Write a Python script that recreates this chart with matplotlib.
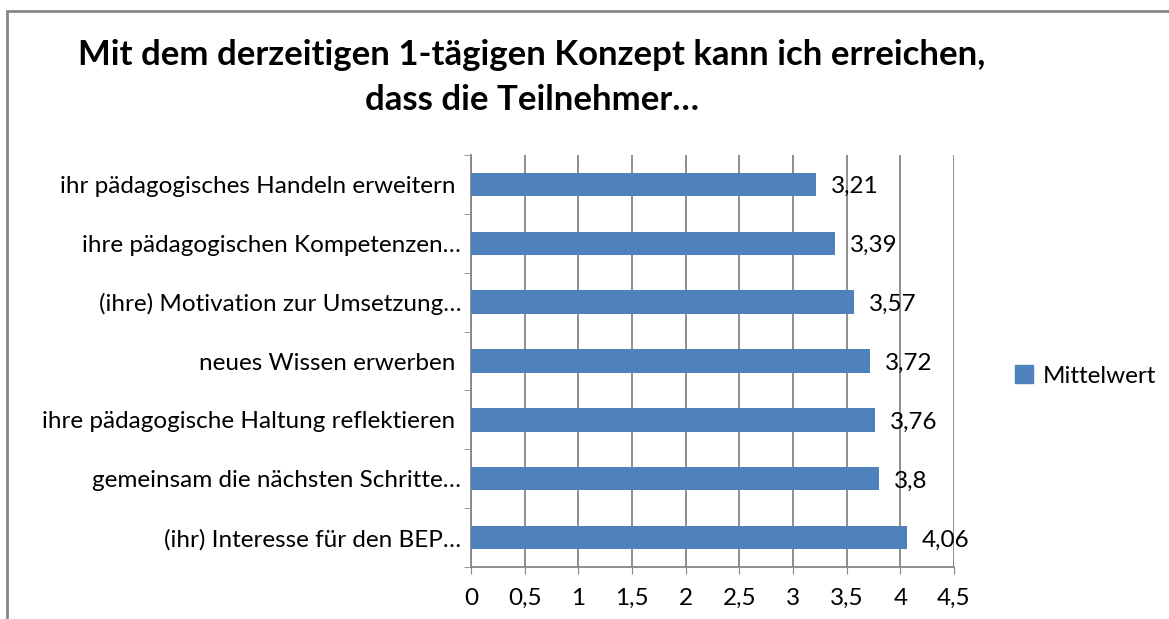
import matplotlib
matplotlib.use("Agg")
import matplotlib.pyplot as plt
from matplotlib.patches import Rectangle, Patch
import numpy as np

# data (top to bottom as shown)
categories = [
    "ihr pädagogisches Handeln erweitern ",
    "ihre pädagogischen Kompetenzen…",
    "(ihre) Motivation zur Umsetzung…",
    "neues Wissen erwerben ",
    "ihre pädagogische Haltung reflektieren ",
    "gemeinsam die nächsten Schritte…",
    "(ihr) Interesse für den BEP…",
]
values = [3.21, 3.39, 3.57, 3.72, 3.76, 3.8, 4.06]
value_labels = ["3,21", "3,39", "3,57", "3,72", "3,76", "3,8", "4,06"]
xticks = [0, 0.5, 1, 1.5, 2, 2.5, 3, 3.5, 4, 4.5]
xtick_labels = ["0", "0,5", "1", "1,5", "2", "2,5", "3", "3,5", "4", "4,5"]

plt.rcParams['font.family'] = ['Lato', 'DejaVu Sans']
W, H = 1169, 619
FS = 17.5
fig = plt.figure(figsize=(W / 100, H / 100), dpi=100)

# chart frame (right and bottom edges run off the image)
fig.patches.append(Rectangle((7 / W, -0.1), 1.2, 1 - 11 / H + 0.1,
                             transform=fig.transFigure, fill=False,
                             edgecolor="#868686", lw=2))

ax = fig.add_axes([471 / W, 1 - 567 / H, (954 - 471) / W, (567 - 155) / H])
n = len(categories)
y = np.arange(n)[::-1]
ax.barh(y, values, height=0.4, color="#4F81BD", zorder=3)
ax.set_xlim(0, 4.5)
ax.set_ylim(-0.5, n - 0.5)

for yi, v, lab in zip(y, values, value_labels):
    ax.text(v + 0.14, yi - 0.04, lab, va="center", ha="left", fontsize=FS)

ax.set_xticks(xticks)
ax.set_xticklabels(xtick_labels, fontsize=FS)
ax.set_yticks(y)
ax.set_yticklabels(categories, fontsize=FS)
ax.set_yticks(np.arange(n + 1) - 0.5, minor=True)
ax.tick_params(axis="y", which="major", length=0, pad=7)
ax.tick_params(axis="y", which="minor", length=5, color="#868686")
ax.tick_params(axis="x", length=5, color="#868686", pad=10)
ax.grid(axis="x", color="#868686", lw=1.3, zorder=0)
for s in ["top", "right"]:
    ax.spines[s].set_visible(False)
for s in ["left", "bottom"]:
    ax.spines[s].set_color("#868686")
    ax.spines[s].set_linewidth(1.3)

fig.text(532 / W, 1 - 55 / H, "Mit dem derzeitigen 1-tägigen Konzept kann ich erreichen,",
         ha="center", va="center", fontsize=25, fontweight="bold")
fig.text(532 / W, 1 - 100 / H, "dass die Teilnehmer…",
         ha="center", va="center", fontsize=25, fontweight="bold")

fig.legend(handles=[Patch(color="#4F81BD", label="Mittelwert")],
           loc="center left", bbox_to_anchor=(993 / W, 1 - 376 / H),
           frameon=False, fontsize=FS, handlelength=0.75, handleheight=0.75,
           handletextpad=0.4)

fig.savefig("out.png", dpi=100)
